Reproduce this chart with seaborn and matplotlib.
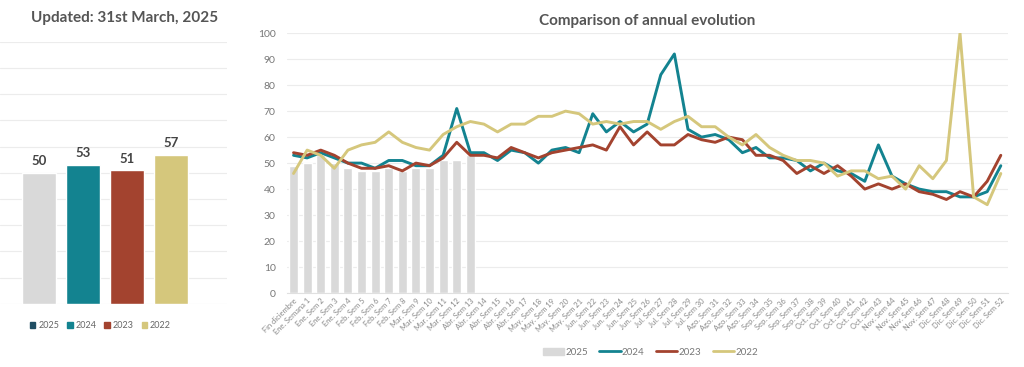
import numpy as np
import pandas as pd
import matplotlib
matplotlib.use("Agg")
import matplotlib.pyplot as plt
import seaborn as sns
from matplotlib.patches import Patch
from matplotlib.lines import Line2D

# summary panel
years = ["2025", "2024", "2023", "2022"]
year_avg = [50, 53, 51, 57]

# weekly labels
weeks = ["Fin diciembre", "Ene. Semana 1", "Ene. Sem 2", "Ene. Sem 3", "Ene. Sem 4",
         "Feb. Sem 5", "Feb. Sem 6", "Feb. Sem 7", "Feb. Sem 8",
         "Mar. Sem 9", "Mar. Sem 10", "Mar. Sem 11", "Mar. Sem 12",
         "Abr. Sem 13", "Abr. Sem 14", "Abr. Sem 15", "Abr. Sem 16", "Abr. Sem 17",
         "May. Sem 18", "May. Sem 19", "May. Sem 20", "May. Sem 21",
         "Jun. Sem 22", "Jun. Sem 23", "Jun. Sem 24", "Jun. Sem 25", "Jun. Sem 26",
         "Jul. Sem 27", "Jul. Sem 28", "Jul. Sem 29", "Jul. Sem 30",
         "Ago. Sem 31", "Ago. Sem 32", "Ago. Sem 33", "Ago. Sem 34",
         "Sep. Sem 35", "Sep. Sem 36", "Sep. Sem 37", "Sep. Sem 38",
         "Oct. Sem 39", "Oct. Sem 40", "Oct. Sem 41", "Oct. Sem 42", "Oct. Sem 43",
         "Nov. Sem 44", "Nov. Sem 45", "Nov. Sem 46", "Nov. Sem 47",
         "Dic. Sem 48", "Dic. Sem 49", "Dic. Sem 50", "Dic. Sem 51", "Dic. Sem 52"]

v2025 = [49, 50, 53, 50, 48, 47, 47, 48, 47, 48, 48, 51, 51, 53]
v2024 = [53, 52, 54, 52, 50, 50, 48, 51, 51, 49, 49, 53, 71, 54, 54, 51, 55, 54,
         50, 55, 56, 54, 69, 62, 66, 62, 65, 84, 92, 63, 60, 61, 59, 54, 56, 52,
         52, 51, 47, 50, 47, 46, 43, 57, 45, 42, 40, 39, 39, 37, 37, 39, 49]
v2023 = [54, 53, 55, 53, 50, 48, 48, 49, 47, 50, 49, 52, 58, 53, 53, 52, 56, 54,
         52, 54, 55, 56, 57, 55, 64, 57, 62, 57, 57, 61, 59, 58, 60, 59, 53, 53,
         51, 46, 49, 46, 49, 45, 40, 42, 40, 42, 39, 38, 36, 39, 37, 43, 53]
v2022 = [46, 55, 53, 48, 55, 57, 58, 62, 58, 56, 55, 61, 64, 66, 65, 62, 65, 65,
         68, 68, 70, 69, 65, 66, 65, 66, 66, 63, 66, 68, 64, 64, 60, 57, 61, 56,
         53, 51, 51, 50, 45, 47, 47, 44, 45, 40, 49, 44, 51, 100, 37, 34, 46]

c_gray = "#d9d9d9"
c_teal = "#138390"
c_red = "#a3432f"
c_gold = "#d5c77c"
c_navy = "#1f4e63"
txt = "#555555"

sns.set_style("white")
plt.rcParams["font.family"] = ["Lato", "DejaVu Sans"]

fig = plt.figure(figsize=(10.24, 3.67), dpi=100)

# ---- left panel
ax1 = fig.add_axes([0.0, 0.172, 0.222, 0.714])
df_avg = pd.DataFrame({"year": years, "avg": year_avg})
sns.barplot(data=df_avg, x="year", y="avg", hue="year",
            palette=[c_gray, c_teal, c_red, c_gold], width=0.77,
            legend=False, ax=ax1, saturation=1)
ax1.set_xlim(-0.886, 4.27)
ax1.set_ylim(0, 100)
ax1.set_yticks(np.arange(0, 101, 10))
ax1.set_yticklabels([])
ax1.set_xticks([])
ax1.set_xlabel("")
ax1.set_ylabel("")
ax1.tick_params(left=False)
ax1.grid(axis="y", color="#ececec", lw=0.8)
ax1.set_axisbelow(True)
for s in ax1.spines.values():
    s.set_visible(False)
for cont in ax1.containers:
    ax1.bar_label(cont, padding=4, fontsize=9.5, fontweight="bold", color="#444444")
fig.text(0.122, 0.952, "Updated: 31st March, 2025", ha="center", va="center",
         fontsize=11, fontweight="bold", color=txt)
h1 = [Patch(color=c, label=y) for c, y in zip([c_navy, c_teal, c_red, c_gold], years)]
fig.legend(handles=h1, loc="center", bbox_to_anchor=(0.098, 0.113), ncol=4,
           frameon=False, fontsize=6.5, handlelength=0.6, handleheight=0.6,
           handletextpad=0.3, columnspacing=0.9, labelcolor="#666666")

# ---- right panel
ax2 = fig.add_axes([0.280, 0.2016, 0.704, 0.708])
idx = np.arange(len(weeks))
df_bar = pd.DataFrame({"idx": idx[:len(v2025)], "val": v2025})
sns.barplot(data=df_bar, x="idx", y="val", color=c_gray, native_scale=True,
            width=0.66, saturation=1, ax=ax2)
df_lines = pd.DataFrame({
    "idx": np.tile(idx, 3),
    "val": v2024 + v2023 + v2022,
    "year": ["2024"] * len(idx) + ["2023"] * len(idx) + ["2022"] * len(idx),
})
sns.lineplot(data=df_lines, x="idx", y="val", hue="year",
             palette={"2024": c_teal, "2023": c_red, "2022": c_gold},
             hue_order=["2024", "2023", "2022"], lw=2.1, legend=False, ax=ax2)
ax2.set_xlim(-0.5, len(weeks) - 0.5)
ax2.set_ylim(0, 100)
ax2.set_yticks(np.arange(0, 101, 10))
ax2.set_xticks(idx)
ax2.set_xticklabels(weeks, rotation=45, ha="right", rotation_mode="anchor",
                    fontsize=5.4, color="#888888")
ax2.tick_params(axis="y", labelsize=7.5, labelcolor="#777777", length=0, pad=8)
ax2.tick_params(axis="x", length=0, pad=3)
ax2.set_xlabel("")
ax2.set_ylabel("")
ax2.grid(axis="y", color="#ececec", lw=0.8)
ax2.set_axisbelow(True)
for s in ["top", "right", "left"]:
    ax2.spines[s].set_visible(False)
ax2.spines["bottom"].set_color("#e0e0e0")
ax2.set_title("Comparison of annual evolution", fontsize=11, fontweight="bold",
              color=txt, pad=6)
h2 = [Patch(color=c_gray, label="2025"),
      Line2D([], [], color=c_teal, lw=2, label="2024"),
      Line2D([], [], color=c_red, lw=2, label="2023"),
      Line2D([], [], color=c_gold, lw=2, label="2022")]
fig.legend(handles=h2, loc="center", bbox_to_anchor=(0.635, 0.04), ncol=4,
           frameon=False, fontsize=7, handlelength=2.2, handletextpad=0.1,
           columnspacing=1.2, labelcolor="#777777")

fig.savefig("out.png", dpi=100)
